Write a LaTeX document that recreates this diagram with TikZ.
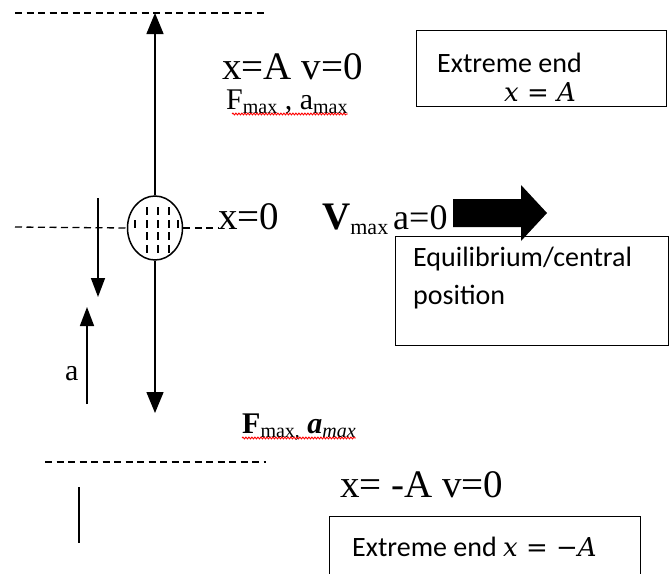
\documentclass[tikz,border=0pt]{standalone}
\usepackage{fontspec}
\setmainfont{Liberation Serif}
\newfontfamily\calibrifont{Carlito}
\newfontfamily\cambriafont{DejaVu Serif}
\usetikzlibrary{arrows.meta,shapes.geometric,decorations.pathmorphing,calc}
\begin{document}
\begin{tikzpicture}[x=1pt,y=-1pt,
  dashline/.style={line width=1.3pt, dash pattern=on 7pt off 4.5pt},
  bigtip/.style={-{Triangle[width=17pt,length=21pt]}, line width=1.5pt},
  smalltip/.style={-{Triangle[width=14pt,length=19pt]}, line width=1.5pt},
  bigtxt/.style={font=\fontsize{39}{44}\selectfont, inner sep=0pt, anchor=base west},
  midtxt/.style={font=\fontsize{30}{36}\selectfont, inner sep=0pt, anchor=base west},
  boxtxt/.style={font=\calibrifont\fontsize{28}{35}\selectfont, inner sep=0pt, anchor=base west},
  mathtxt/.style={font=\cambriafont\itshape\fontsize{26}{35}\selectfont, inner sep=0pt},
  boxline/.style={line width=1pt},
  squiggle/.style={red, line width=0.9pt, decorate, decoration={snake, amplitude=0.9pt, segment length=3pt}},
  balldash/.style={line width=1.3pt}
]
\useasboundingbox (0,0) rectangle (671,573);

% dashed reference lines
\coordinate (topL) at (15,13);
\coordinate (topR) at (266,13);
\draw[dashline] (topL) -- (topR);
\coordinate (botL) at (45,462);
\coordinate (botR) at (266,462);
\draw[dashline] (botL) -- (botR);

% oscillating body
\node[ellipse, draw, line width=1.5pt, minimum width=55pt, minimum height=64pt, inner sep=0pt] (ball) at (155,228) {};
\foreach \dx/\dy in {-8/-17, 3/-17, 14/-17, -20/-4, -8/-4, 3/-4, 14/-4, 23/-4, -8/8, 3/8, 14/8, -8/21, 3/21, 14/21}
  \draw[balldash] ($(ball.center)+(\dx,\dy-4)$) -- ($(ball.center)+(\dx,\dy+4)$);

% long vertical arrows
\coordinate (topend) at (155,13);
\coordinate (botend) at (155,413);
\draw[bigtip] (ball.north) -- (topend);
\draw[bigtip] (ball.south) -- (botend);

% middle dashed line
\coordinate (midL) at (15,227);
\draw[dashline] (midL) -- (ball.west);

% labels
\node[bigtxt, text depth=0pt] (xA) at (222,79) {x=A v=0};
\node[midtxt, text height=19pt] (fa) at (226,109) {F\raisebox{-4pt}{\fontsize{20}{20}\selectfont max} , a\raisebox{-4pt}{\fontsize{20}{20}\selectfont max}};
\draw[squiggle] ($(fa.base west)+(6,5)$) -- ($(fa.base east)+(0,5)$);

\node[bigtxt] (x0) at (218,229) {x=0};
\draw[dashline] (ball.east) -- (ball.east -| x0.west);
\node[bigtxt] (vmax) at (322,229) {\textbf{V}\raisebox{-5pt}{\fontsize{22}{22}\selectfont max}\hspace{5pt}{\fontsize{36}{40}\selectfont a=0}};

\node[midtxt] (fb) at (242,433) {\textbf{F}\raisebox{-4pt}{\fontsize{20}{20}\selectfont max,} \textbf{\textit{a}}\raisebox{-4pt}{\fontsize{20}{20}\selectfont\itshape max}};
\draw[squiggle] ($(fb.base west)+(0,5)$) -- ($(fb.base east)+(0,5)$);

\node[bigtxt] (xmA) at (340,497) {x= -A v=0};

% small acceleration arrows
\coordinate (dnS) at (98,198);
\coordinate (dnE) at (98,297);
\draw[smalltip] (dnS) -- (dnE);
\coordinate (upS) at (87,404);
\coordinate (upE) at (87,307);
\draw[smalltip] (upS) -- (upE);
\node[midtxt] (alab) at (65,380) {a};

% short vertical line
\coordinate (vlA) at (79,487);
\coordinate (vlB) at (79,543);
\draw[line width=1.5pt] (vlA) -- (vlB);

% block arrow
\fill (453,199) -- (521,199) -- (521,185) -- (547,213) -- (521,241) -- (521,227) -- (453,227) -- cycle;

% boxes
\node[draw, boxline, minimum width=250pt, minimum height=76pt, anchor=north west, inner sep=0pt] (box1) at (416,30) {};
\node[boxtxt] (b1a) at (437,72) {Extreme end};
\node[mathtxt, anchor=base] (b1b) at (540,101) {x {\upshape=} A};

\node[draw, boxline, minimum width=273pt, minimum height=109pt, anchor=north west, inner sep=0pt] (box2) at (395,236) {};
\node[boxtxt] (b2a) at (413,266) {Equilibrium/central};
\node[boxtxt] (b2b) at (413,304) {position};

\coordinate (b3a) at (329,574);
\coordinate (b3b) at (329,516);
\coordinate (b3c) at (640,516);
\coordinate (b3d) at (640,574);
\draw[boxline] (b3a) -- (b3b) -- (b3c) -- (b3d);
\node[boxtxt] (b3t) at (352,556) {Extreme end {\cambriafont\itshape\fontsize{26}{35}\selectfont x {\upshape=} {\upshape−}A}};
\end{tikzpicture}
\end{document}
